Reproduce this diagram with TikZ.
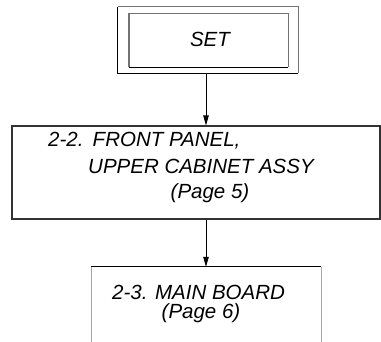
\documentclass[tikz,border=0pt]{standalone}
\usepackage{fontspec}
\setmainfont{Liberation Sans}
\usetikzlibrary{arrows.meta}
\begin{document}
\begin{tikzpicture}[x=1pt,y=-1pt,
  txt/.style={inner sep=0pt,font=\fontsize{20.5}{24}\selectfont\itshape},
  boxn/.style={draw=none,inner sep=0pt,minimum width=#1},
  arr/.style={-{Triangle[length=10pt,width=5.5pt]},line width=0.8pt},
  grayline/.style={draw=black!55,line width=1.4pt},
  blackline/.style={draw=black,line width=0.9pt}]
\useasboundingbox (0,0) rectangle (381,342);
\clip (0,0) rectangle (381,342);
% SET box
\node[boxn=180pt,minimum height=66pt] (setout) at (208,40) {};
\node[boxn=159pt,minimum height=53pt] (setin) at (208.5,40.5) {};
\draw[grayline] (setout.south east) -- (setout.north east) -- (setout.north west);
\draw[blackline] (setout.north west) -- (setout.south west) -- (setout.south east);
\draw[grayline] (setin.south west) -- (setin.north west) -- (setin.north east) -- (setin.south east);
\draw[blackline] (setin.south west) -- (setin.south east);
\node[txt,anchor=base] (settxt) at (210,47) {SET};
% middle box
\node[boxn=368pt,minimum height=93pt,draw=black!80,line width=1.1pt] (front) at (196,172.5) {};
\node[txt,anchor=base west] (l1) at (48,147) {2-2.\hspace{0.45em}FRONT PANEL,};
\node[txt,anchor=base west] (l2) at (88,174) {UPPER CABINET ASSY};
\node[txt,anchor=base] (l3) at (210,199) {(Page 5)};
% bottom box
\node[boxn=230pt,minimum height=100pt] (main) at (206,317) {};
\draw[draw=black!35,line width=0.6pt] (main.north west) -- (main.south west);
\draw[draw=black!35,line width=0.6pt] (main.north east) -- (main.south east);
\draw[blackline] (main.north west) -- (main.north east);
\node[txt,anchor=base west] (m1) at (112,300) {2-3. MAIN BOARD};
\node[txt,anchor=base] (m2) at (201,319) {(Page 6)};
% arrows
\draw[arr] (main.north |- setout.south) -- (main.north |- front.north);
\draw[arr] (main.north |- front.south) -- (main.north);
\end{tikzpicture}
\end{document}
